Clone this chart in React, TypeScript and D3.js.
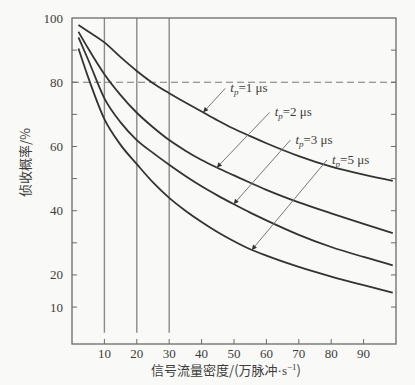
import { useEffect, useRef } from "react";
import * as d3 from "d3";

// signal flow density (10^4 pulses/s) and intercept probability (%) per pulse width
const density = [2, 5, 10, 15, 20, 25, 30, 35, 40, 45, 50, 55, 60, 70, 80, 90, 99];
const probTp1 = [97.8, 95.8, 92.4, 87.8, 83.5, 79.7, 76.6, 73.7, 70.9, 68.1, 65.5, 63.2, 61, 57, 53.7, 51.2, 49.3];
const probTp2 = [95.7, 90.5, 82.5, 76, 70.5, 66, 62, 58.7, 55.8, 53.3, 51, 48.7, 46.5, 42.6, 39.2, 35.9, 33];
const probTp3 = [94, 87, 75, 67.5, 62, 58, 54.3, 50.8, 47.6, 44.7, 42, 39.4, 37, 32.5, 28.7, 25.6, 23];
const probTp5 = [90.5, 81.5, 68.5, 60.5, 54.5, 48.8, 44, 40, 36.5, 33.3, 30.5, 28, 26, 22.5, 19.5, 16.8, 14.5];
const series = [probTp1, probTp2, probTp3, probTp5];

const pulseWidths = ["1", "2", "3", "5"];
const arrowTailDensity = [47.3, 61, 67.4, 78.7];
const arrowTailProb = [78.1, 70.6, 62, 55.8];
const arrowTipDensity = [40.5, 44.7, 49.9, 55.5];

const yTickLabels = [10, 20, 40, 60, 80, 100];
const yTicks = [10, 20, 30, 40, 50, 60, 70, 80, 90];
const xTicks = [10, 20, 30, 40, 50, 60, 70, 80, 90];
const markerLines = [10, 20, 30];
const thresholdProb = 80;

const W = 415;
const H = 385;

function interp(xs: number[], ys: number[], v: number) {
    return d3.scaleLinear().domain(xs).range(ys)(v);
}

export default function App() {
    const ref = useRef<SVGSVGElement | null>(null);

    useEffect(() => {
        const svg = d3.select(ref.current);
        svg.selectAll("*").remove();

        const x = d3.scaleLinear().domain([0, 100]).range([72, 396]);
        const y = d3.scaleLinear().domain([-1.5, 100]).range([344, 18]);

        const axisColor = "#6a6a6a";
        const textColor = "#3c3c3c";
        const serif = "'Liberation Serif', 'DejaVu Serif', serif";
        const cjk = "'Noto Sans CJK SC', sans-serif";

        svg.append("rect")
            .attr("width", W)
            .attr("height", H)
            .attr("fill", "#f9f9f7");

        svg.append("defs")
            .append("marker")
            .attr("id", "arrow")
            .attr("viewBox", "0 0 10 10")
            .attr("refX", 10)
            .attr("refY", 5)
            .attr("markerWidth", 8)
            .attr("markerHeight", 5)
            .attr("markerUnits", "userSpaceOnUse")
            .attr("orient", "auto")
            .append("path")
            .attr("d", "M0,0L10,5L0,10z")
            .attr("fill", "#333");

        // vertical reference lines
        svg.append("g")
            .selectAll("line")
            .data(markerLines)
            .join("line")
            .attr("x1", d => x(d))
            .attr("x2", d => x(d))
            .attr("y1", y(100))
            .attr("y2", y(2))
            .attr("stroke", "#8a8a8a")
            .attr("stroke-width", 1.4);

        // dashed 80% line
        svg.append("line")
            .attr("x1", x(0))
            .attr("x2", x(100))
            .attr("y1", y(thresholdProb))
            .attr("y2", y(thresholdProb))
            .attr("stroke", "#7a7a7a")
            .attr("stroke-width", 1.2)
            .attr("stroke-dasharray", "7,4");

        // frame
        svg.append("rect")
            .attr("x", x(0))
            .attr("y", y(100))
            .attr("width", x(100) - x(0))
            .attr("height", y(-1.5) - y(100))
            .attr("fill", "none")
            .attr("stroke", axisColor)
            .attr("stroke-width", 1.3);

        // y ticks (inward, both sides)
        const yt = svg.append("g").attr("stroke", axisColor).attr("stroke-width", 1);
        yt.selectAll(".l")
            .data(yTicks)
            .join("line")
            .attr("x1", x(0))
            .attr("x2", x(0) + 5)
            .attr("y1", d => y(d))
            .attr("y2", d => y(d));
        yt.selectAll(".r")
            .data(yTicks)
            .join("line")
            .attr("x1", x(100))
            .attr("x2", x(100) - 5)
            .attr("y1", d => y(d))
            .attr("y2", d => y(d));

        // x ticks (inward)
        svg.append("g")
            .attr("stroke", axisColor)
            .selectAll("line")
            .data(xTicks)
            .join("line")
            .attr("x1", d => x(d))
            .attr("x2", d => x(d))
            .attr("y1", y(-1.5))
            .attr("y2", y(-1.5) - 5);

        svg.append("g")
            .selectAll("text")
            .data(yTickLabels)
            .join("text")
            .attr("x", x(0) - 9)
            .attr("y", d => y(d))
            .attr("dy", "0.35em")
            .attr("text-anchor", "end")
            .attr("font-family", serif)
            .attr("font-size", 13)
            .attr("fill", textColor)
            .text(d => d);

        svg.append("g")
            .selectAll("text")
            .data(xTicks)
            .join("text")
            .attr("x", d => x(d))
            .attr("y", y(-1.5) + 14)
            .attr("text-anchor", "middle")
            .attr("font-family", serif)
            .attr("font-size", 13)
            .attr("fill", textColor)
            .text(d => d);

        // curves
        const line = d3.line<number>()
            .x((_, i) => x(density[i]))
            .y(d => y(d))
            .curve(d3.curveMonotoneX);

        svg.append("g")
            .selectAll("path")
            .data(series)
            .join("path")
            .attr("d", d => line(d))
            .attr("fill", "none")
            .attr("stroke", "#333")
            .attr("stroke-width", 1.8);

        // annotations
        pulseWidths.forEach((pw, i) => {
            const tx = x(arrowTailDensity[i]);
            const ty = y(arrowTailProb[i]);
            const tipV = arrowTipDensity[i];
            svg.append("line")
                .attr("x1", tx)
                .attr("y1", ty)
                .attr("x2", x(tipV))
                .attr("y2", y(interp(density, series[i], tipV)))
                .attr("stroke", "#777")
                .attr("stroke-width", 1)
                .attr("marker-end", "url(#arrow)");

            const t = svg.append("text")
                .attr("x", tx + 5)
                .attr("y", ty + 4)
                .attr("font-family", serif)
                .attr("font-size", 13)
                .attr("fill", textColor);
            t.append("tspan").attr("font-style", "italic").text("t");
            t.append("tspan").attr("font-style", "italic").attr("font-size", 9).attr("dy", 3).text("p");
            t.append("tspan").attr("dy", -3).text(`=${pw} μs`);
        });

        // axis titles
        svg.append("text")
            .attr("transform", `translate(30,${(y(60) + y(40)) / 2 - 16}) rotate(-90)`)
            .attr("text-anchor", "middle")
            .attr("font-family", cjk)
            .attr("font-size", 13)
            .attr("fill", textColor)
            .text("侦收概率/%");

        const xl = svg.append("text")
            .attr("x", (x(0) + x(100)) / 2 - 8)
            .attr("y", 375)
            .attr("text-anchor", "middle")
            .attr("font-family", cjk)
            .attr("font-size", 13)
            .attr("fill", textColor);
        xl.append("tspan").text("信号流量密度/(万脉冲");
        xl.append("tspan").attr("font-family", serif).text("·s");
        xl.append("tspan").attr("font-family", serif).attr("font-size", 9).attr("dy", -5).text("−1");
        xl.append("tspan").attr("dy", 5).text(")");
    }, []);

    return (
        <svg
            ref={ref}
            width={W}
            height={H}
            style={{ position: "absolute", left: 0, top: 0, display: "block" }}
        />
    );
}
